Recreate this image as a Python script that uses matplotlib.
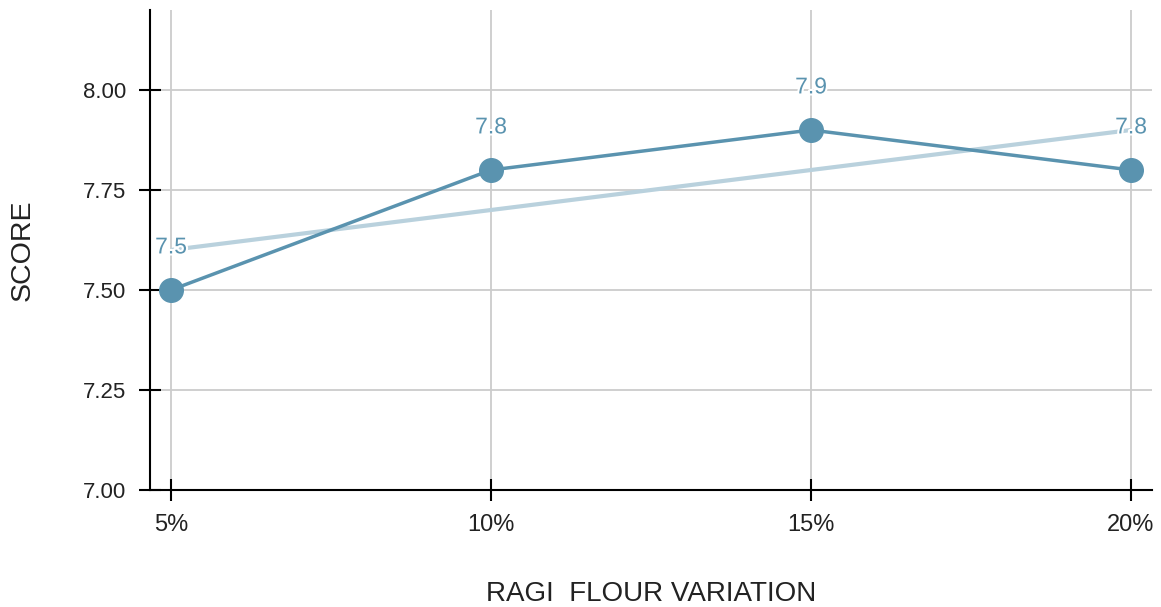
import matplotlib.pyplot as plt
import matplotlib.patheffects as pe
import numpy as np

plt.rcParams['font.family'] = ['Liberation Sans', 'DejaVu Sans']

categories = ['5%', '10%', '15%', '20%']
scores = [7.5, 7.8, 7.9, 7.8]
y_ticks = [7.00, 7.25, 7.50, 7.75, 8.00]

LINE_COLOR = '#5a93af'
TREND_COLOR = '#b9d1dd'
GRID_COLOR = '#cccccc'
TEXT_COLOR = '#222222'

x = np.arange(len(categories))
# least-squares trend through the scores
slope, intercept = np.polyfit(x, scores, 1)
trend = slope * x + intercept

fig = plt.figure(figsize=(11.61, 6.07), dpi=100)
ax = fig.add_axes([150 / 1161, 1 - 490 / 607, 1002 / 1161, 480 / 607])

ax.plot(x, trend, color=TREND_COLOR, lw=3, solid_capstyle='butt', zorder=2)
ax.plot(x, scores, color=LINE_COLOR, lw=2.5, marker='o', markersize=17,
        zorder=3)

for xi, s in zip(x, scores):
    label = ax.annotate(f'{s:g}', (xi, s), xytext=(0, 31),
                        textcoords='offset points', ha='center', va='center',
                        fontsize=16.5, color=LINE_COLOR, zorder=4,
                        path_effects=[pe.withStroke(linewidth=3,
                                                    foreground='white')])
    label.set_clip_on(True)

ax.set_xlim(-0.0656, 3.0656)
ax.set_ylim(7.0, 8.2)
ax.set_xticks(x)
ax.set_xticklabels(categories)
ax.set_yticks(y_ticks)
ax.set_yticklabels([f'{v:.2f}' for v in y_ticks])

ax.grid(True, color=GRID_COLOR, lw=1.3, zorder=0)
ax.set_axisbelow(True)
for side in ('top', 'right'):
    ax.spines[side].set_visible(False)
for side in ('left', 'bottom'):
    ax.spines[side].set_linewidth(1.5)
    ax.spines[side].set_color('black')

ax.tick_params(axis='both', direction='inout', length=16, width=1.5,
               labelcolor=TEXT_COLOR, color='black')
ax.tick_params(axis='y', pad=9, labelsize=16)
ax.tick_params(axis='x', pad=9, labelsize=17)

ax.set_xlabel('RAGI  FLOUR VARIATION', fontsize=20, labelpad=33,
              color=TEXT_COLOR)
ax.set_ylabel('SCORE', fontsize=20.5, labelpad=34, color=TEXT_COLOR)

fig.savefig('out.png', dpi=100)
